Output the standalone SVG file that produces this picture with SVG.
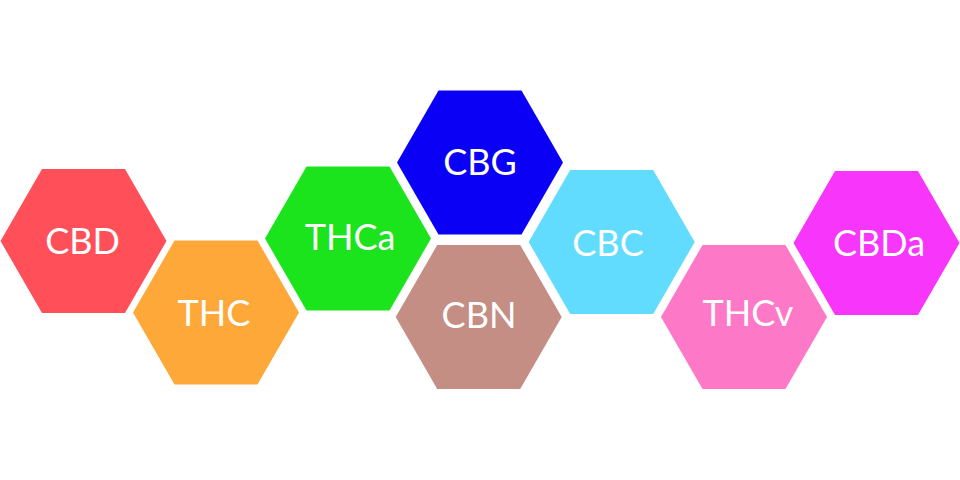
<svg xmlns="http://www.w3.org/2000/svg" xmlns:xlink="http://www.w3.org/1999/xlink" width="960" height="480" viewBox="0 0 960 480">
<style>
.lbl{font-family:Lato,"Open Sans","Liberation Sans",sans-serif;font-size:36px;fill:#ffffff;text-anchor:middle}
</style>
<defs>
<polygon id="hex" points="-83,0 -41.5,-72 41.5,-72 83,0 41.5,72 -41.5,72"/>
</defs>
<rect width="960" height="480" fill="#ffffff"/>
<g id="connectors"/>
<g id="CBD"><use xlink:href="#hex" transform="translate(83.5,241)" fill="#FF505A"/><text class="lbl" x="82.5" y="254">CBD</text></g>
<g id="THC"><use xlink:href="#hex" transform="translate(216,312.5)" fill="#FFA83A"/><text class="lbl" x="214" y="326">THC</text></g>
<g id="THCa"><use xlink:href="#hex" transform="translate(348,238.5)" fill="#1CE41C"/><text class="lbl" x="350" y="250">THCa</text></g>
<g id="CBG"><use xlink:href="#hex" transform="translate(480,162.5)" fill="#0A00F5"/><text class="lbl" x="480" y="175">CBG</text></g>
<g id="CBN"><use xlink:href="#hex" transform="translate(478.7,317)" fill="#C48E84"/><text class="lbl" x="479" y="328">CBN</text></g>
<g id="CBC"><use xlink:href="#hex" transform="translate(611.7,242)" fill="#62DCFE"/><text class="lbl" x="608" y="256">CBC</text></g>
<g id="THCv"><use xlink:href="#hex" transform="translate(744,317)" fill="#FD78C6"/><text class="lbl" x="748" y="326">THCv</text></g>
<g id="CBDa"><use xlink:href="#hex" transform="translate(876.5,243)" fill="#F835FB"/><text class="lbl" x="879" y="256">CBDa</text></g>
</svg>
